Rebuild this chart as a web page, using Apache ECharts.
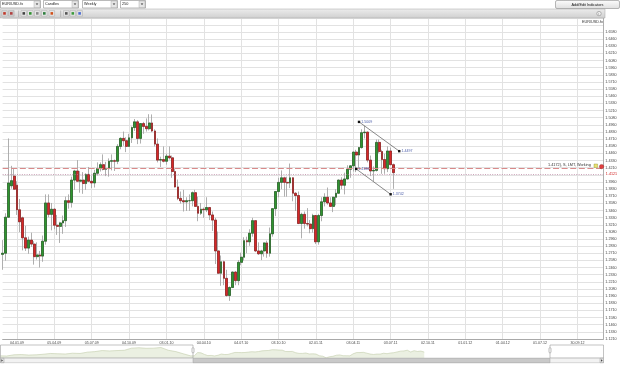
<!DOCTYPE html>
<html><head><meta charset="utf-8">
<script src="https://cdn.jsdelivr.net/npm/echarts@6/dist/echarts.min.js"></script>
<style>html,body{margin:0;padding:0;background:#fff}#c{width:625px;height:365px}</style>
</head><body><div id="c"></div>
<script>
// ---------- DATA ----------
const symbolName = 'EUR/USD.fx';
const firstWeek = '2008-11-30';
const weekCount = 210;
const xTickLabels = ['04.01.09','05.04.09','05.07.09','04.10.09','03.01.10','04.04.10','04.07.10','03.10.10','02.01.11','03.04.11','03.07.11','02.10.11','01.01.12','01.04.12','01.07.12','30.09.12'];

const candleOpen = [1.2690,1.2710,1.3340,1.3890,1.4060,1.3900,1.3470,1.3330,1.2980,1.2800,
1.2940,1.2870,1.2650,1.2680,1.2660,1.2920,1.3590,1.3390,1.3480,1.3200,
1.3180,1.3240,1.3280,1.3630,1.3600,1.3990,1.4150,1.3970,1.3990,1.3930,
1.4090,1.3970,1.3940,1.4110,1.4190,1.4260,1.4180,1.4190,1.4320,1.4330,
1.4320,1.4580,1.4720,1.4680,1.4580,1.4730,1.4910,1.5010,1.4720,1.4980,
1.4930,1.4890,1.4990,1.4850,1.4620,1.4340,1.4350,1.4320,1.4410,1.4380,
1.4140,1.3870,1.3670,1.3630,1.3610,1.3630,1.3630,1.3770,1.3530,1.3410,
1.3480,1.3470,1.3510,1.3380,1.3290,1.2750,1.2360,1.2560,1.2270,1.1970,
1.2110,1.2380,1.2230,1.2550,1.2640,1.2930,1.2910,1.3060,1.3280,1.2750,
1.2700,1.2750,1.2890,1.2710,1.3050,1.3490,1.3790,1.3950,1.4030,1.3950,
1.3940,1.4030,1.3760,1.3720,1.3230,1.3390,1.3230,1.3220,1.3140,1.3370,
1.2910,1.3370,1.3610,1.3690,1.3590,1.3530,1.3690,1.3760,1.3990,1.3900,
1.4010,1.4180,1.4240,1.4480,1.4430,1.4560,1.4820,1.4830,1.4340,1.4150,
1.4160,1.4650,1.4490,1.4350,1.4190,1.4500,1.4260];
const candleClose = [1.2710,1.3340,1.3940,1.3980,1.3830,1.3470,1.3260,1.2980,1.2800,1.2940,
1.2870,1.2650,1.2680,1.2660,1.2920,1.3590,1.3390,1.3480,1.3200,1.3180,
1.3240,1.3280,1.3630,1.3600,1.3990,1.4150,1.3970,1.3990,1.3930,1.4090,
1.3970,1.3940,1.4110,1.4190,1.4260,1.4180,1.4190,1.4320,1.4330,1.4320,
1.4580,1.4720,1.4680,1.4580,1.4730,1.4910,1.5010,1.4720,1.4980,1.4930,
1.4890,1.4990,1.4850,1.4620,1.4340,1.4350,1.4320,1.4410,1.4380,1.4140,
1.3870,1.3670,1.3630,1.3610,1.3630,1.3630,1.3770,1.3530,1.3410,1.3480,
1.3470,1.3510,1.3380,1.3290,1.2750,1.2360,1.2560,1.2270,1.1970,1.2110,
1.2380,1.2230,1.2550,1.2640,1.2930,1.2910,1.3060,1.3280,1.2750,1.2700,
1.2750,1.2890,1.2710,1.3050,1.3490,1.3790,1.3950,1.4030,1.3950,1.3940,
1.4030,1.3760,1.3720,1.3230,1.3390,1.3230,1.3220,1.3140,1.3370,1.2910,
1.3370,1.3610,1.3690,1.3590,1.3530,1.3690,1.3760,1.3990,1.3900,1.4010,
1.4180,1.4240,1.4480,1.4430,1.4560,1.4820,1.4830,1.4340,1.4150,1.4160,
1.4650,1.4490,1.4350,1.4190,1.4500,1.4260,1.4121];
const candleLow = [1.2420,1.2580,1.3330,1.3840,1.3820,1.3380,1.3080,1.2760,1.2750,1.2700,
1.2820,1.2510,1.2600,1.2460,1.2560,1.2860,1.3340,1.3110,1.3130,1.3030,
1.2890,1.3050,1.3170,1.3490,1.3510,1.3820,1.3960,1.3770,1.3750,1.3820,
1.3960,1.3850,1.3860,1.4070,1.4140,1.4160,1.4060,1.4050,1.4160,1.4150,
1.4270,1.4530,1.4590,1.4480,1.4570,1.4640,1.4850,1.4620,1.4630,1.4800,
1.4840,1.4860,1.4830,1.4580,1.4300,1.4220,1.4300,1.4260,1.4350,1.4030,
1.3860,1.3640,1.3580,1.3440,1.3450,1.3450,1.3530,1.3530,1.3270,1.3380,
1.3330,1.3430,1.3290,1.3100,1.2520,1.2350,1.2140,1.2150,1.1950,1.1876,
1.2100,1.2150,1.2150,1.2500,1.2580,1.2710,1.2840,1.3000,1.2730,1.2680,
1.2590,1.2650,1.2630,1.2650,1.3000,1.3360,1.3690,1.3830,1.3700,1.3700,
1.3850,1.3620,1.3450,1.3220,1.2970,1.3140,1.3180,1.3060,1.3070,1.2870,
1.2860,1.3270,1.3530,1.3560,1.3520,1.3430,1.3550,1.3750,1.3830,1.3740,
1.4000,1.4030,1.4140,1.4130,1.4190,1.4540,1.4720,1.4300,1.4060,1.3970,
1.4140,1.4460,1.4100,1.4100,1.4130,1.4250,1.3837];
const candleHigh = [1.2940,1.3410,1.4720,1.4240,1.4200,1.3970,1.3660,1.3350,1.3190,1.3000,
1.3070,1.2920,1.2900,1.2750,1.3020,1.3740,1.3740,1.3590,1.3500,1.3380,
1.3260,1.3370,1.3700,1.3740,1.4050,1.4170,1.4340,1.4150,1.4130,1.4110,
1.4220,1.4070,1.4170,1.4300,1.4300,1.4440,1.4310,1.4370,1.4440,1.4350,
1.4620,1.4740,1.4840,1.4740,1.4800,1.4930,1.5060,1.5040,1.4910,1.5010,
1.5070,1.5144,1.5140,1.4880,1.4720,1.4400,1.4580,1.4450,1.4580,1.4420,
1.4190,1.4000,1.3790,1.3820,1.3690,1.3740,1.3790,1.3820,1.3700,1.3590,
1.3510,1.3690,1.3520,1.3440,1.3330,1.3090,1.2670,1.2580,1.2420,1.2130,
1.2390,1.2400,1.2590,1.2720,1.2990,1.3000,1.3130,1.3330,1.3280,1.2900,
1.2770,1.2900,1.2930,1.3160,1.3500,1.3800,1.4030,1.4160,1.4050,1.4050,
1.4280,1.4040,1.3780,1.3790,1.3420,1.3440,1.3500,1.3290,1.3400,1.3380,
1.3400,1.3690,1.3760,1.3860,1.3690,1.3700,1.3830,1.4000,1.4040,1.4120,
1.4250,1.4250,1.4490,1.4520,1.4570,1.4880,1.4940,1.4840,1.4420,1.4230,
1.4700,1.4700,1.4520,1.4450,1.4580,1.4560,1.4280];

// navigator history before the visible window (monthly readings)
const navPreDates = ['2006-09-20','2006-10-15','2006-11-15','2006-12-15','2007-01-15','2007-02-15','2007-03-15','2007-04-15','2007-05-15','2007-06-15','2007-07-15','2007-08-15','2007-09-15','2007-10-15','2007-11-15','2007-12-15','2008-01-15','2008-02-15','2008-03-15','2008-04-15','2008-05-15','2008-06-15','2008-07-15','2008-08-15','2008-09-15','2008-10-15','2008-11-15'];
const navPreValues = [1.270,1.265,1.310,1.320,1.300,1.310,1.330,1.360,1.350,1.340,1.370,1.360,1.410,1.430,1.470,1.455,1.470,1.480,1.560,1.575,1.555,1.560,1.585,1.480,1.430,1.350,1.270];

const orderPrice = 1.4172;
const orderText = '1.4172), S, LMT, Working';
const lastPrice = 1.4121;
const channelUpper = [[124, 1.5009], [138, 1.4497]];
const channelLower = [[123, 1.4186], [135, 1.3742]];

const yMin = 1.1208333, yMax = 1.6828, yStep = 0.0125;

// ---------- BUILD ----------
const FONT = '"Liberation Sans", Arial, sans-serif';
const cats = [], catDates = [];
const d0 = new Date(firstWeek + 'T00:00:00Z').getTime();
const p2 = n => String(n).padStart(2, '0');
for (let i = 0; i < weekCount; i++) {
  const d = new Date(d0 + i * 7 * 86400000);
  catDates.push(d);
  cats.push(p2(d.getUTCDate()) + '.' + p2(d.getUTCMonth() + 1) + '.' + p2(d.getUTCFullYear() % 100));
}
const isTick = (idx, val) => xTickLabels.indexOf(val) >= 0;
const wickData = candleOpen.map((o, i) => [o, candleClose[i], candleLow[i], candleHigh[i]]);
const bodyData = candleOpen.map((o, i) => [o, candleClose[i], Math.min(o, candleClose[i]), Math.max(o, candleClose[i])]);
const navData = navPreDates.map((d, i) => [d, navPreValues[i]])
  .concat(candleClose.map((c, i) => [catDates[i].getTime(), c]));

function chanSeries(pts) {
  return {
    type: 'line', xAxisIndex: 0, yAxisIndex: 0, z: 10,
    data: pts.map(p => [cats[p[0]], p[1]]),
    symbol: 'rect', symbolSize: 2.4, showSymbol: true, showAllSymbol: true,
    itemStyle: { color: '#111' },
    lineStyle: { color: '#3a3a3a', width: 0.6 },
    label: { show: true, position: 'right', distance: 1, offset: [0, 4],
      formatter: p => p.value[1].toFixed(4), fontSize: 3.6, fontFamily: FONT, color: '#4a5ca8' },
    labelLayout: { hideOverlap: false },
    animation: false, silent: true
  };
}

// ---------- UI graphics ----------
const ui = [];
function rect(x, y, w, h, style, r) { ui.push({ type: 'rect', z: 100, shape: { x, y, width: w, height: h, r: r || 0 }, style }); }
function txt(x, y, s, fill, align, size) {
  ui.push({ type: 'text', z: 101, x, y, style: { text: s, fill: fill || '#222', font: (size || 3.8) + 'px ' + FONT,
    textAlign: align || 'left', align: align || 'left', textVerticalAlign: 'middle', verticalAlign: 'middle' } });
}
function tri(x, y, down) {
  ui.push({ type: 'polygon', z: 101, shape: { points: down ? [[x - 1.3, y - 0.7], [x + 1.3, y - 0.7], [x, y + 0.8]] : [[x - 0.7, y - 1.3], [x - 0.7, y + 1.3], [x + 0.8, y]] }, style: { fill: '#333' } });
}
function dropdown(x, w, label) {
  rect(x, 0.5, w, 7.5, { fill: '#fff', stroke: '#8c8c8c', lineWidth: 0.6 });
  rect(x + w - 6.5, 1, 6, 6.5, { fill: '#e6e6e6', stroke: '#a0a0a0', lineWidth: 0.4 });
  tri(x + w - 3.5, 4.2, true);
  txt(x + 1.5, 4.3, label, '#222');
}
dropdown(0.5, 40, symbolName);
dropdown(43.5, 35, 'Candles');
dropdown(82.5, 35, 'Weekly');
dropdown(120.5, 25, '250');
// Add/Edit Indicators button
ui.push({ type: 'rect', z: 100, shape: { x: 555.5, y: 0.5, width: 64, height: 8, r: 1.5 },
  style: { fill: new echarts.graphic.LinearGradient(0, 0, 0, 1, [{ offset: 0, color: '#fdfdfd' }, { offset: 1, color: '#dedede' }]), stroke: '#8a8a8a', lineWidth: 0.6 } });
txt(587.5, 4.5, 'Add/Edit Indicators', '#111', 'center');
// toolbar band
ui.push({ type: 'rect', z: 99, shape: { x: 0, y: 9, width: 605, height: 9 },
  style: { fill: new echarts.graphic.LinearGradient(0, 0, 0, 1, [{ offset: 0, color: '#ededed' }, { offset: 1, color: '#cfcfcf' }]), stroke: '#a4a4a4', lineWidth: 0.5 } });
// toolbar icons
const icons = [[1.7, '#d9d9d9', '#c0392b'], [8.5, '#cfcfcf', '#b04040'], [21, '#e8e8e8', '#444'], [27.5, '#e8e8e8', '#2f8f2f'], [34.5, '#e8e8e8', '#888'], [41.5, '#e8e8e8', '#2f7f3f'], [49, '#e8e8e8', '#d0501a'], [63.5, '#e4e4e4', '#555'], [70, '#e4e4e4', '#3c9a3c'], [76.8, '#e4e4e4', '#4a6ad0']];
icons.forEach(ic => {
  rect(ic[0], 10.6, 5.6, 5.6, { fill: ic[1], stroke: '#9a9a9a', lineWidth: 0.4 });
  rect(ic[0] + 1.5, 12.1, 2.6, 2.6, { fill: ic[2] });
});
[18.5, 60.5].forEach(x => rect(x, 10.5, 0.6, 6.5, { fill: '#9c9c9c' }));
ui.push({ type: 'circle', z: 101, shape: { cx: 599, cy: 13.6, r: 2.2 }, style: { fill: '#f4f4f4', stroke: '#777', lineWidth: 0.5 } });
txt(599, 13.7, 'i', '#555', 'center', 3.4);
txt(603, 22.3, symbolName, '#333', 'right');
// order line icons
ui.push({ type: 'rect', z: 101, shape: { x: 594, y: 164, width: 3.6, height: 3.6 }, style: { fill: '#e8e070', stroke: '#8a8a30', lineWidth: 0.4 } });
ui.push({ type: 'circle', z: 101, shape: { cx: 601.6, cy: 166.6, r: 2.2 }, style: { fill: '#e04040', stroke: '#902020', lineWidth: 0.4 } });
// navigator frame
const navTop = 345, navBot = 358, winL = 193, winR = 550;
rect(0.5, navTop, winL - 0.5, navBot - navTop, { fill: 'rgba(0,0,0,0)', stroke: '#9a9a9a', lineWidth: 0.6 });
rect(winR, navTop, 603.5 - winR, navBot - navTop, { fill: 'rgba(0,0,0,0)', stroke: '#9a9a9a', lineWidth: 0.6 });
rect(0.5, navBot + 0.3, 603, 4.4, { fill: '#f2f2f2', stroke: '#b4b4b4', lineWidth: 0.5 });
rect(winL, navBot + 0.3, winR - winL, 4.4, { fill: '#c9c9c9', stroke: '#a0a0a0', lineWidth: 0.5 });
rect(0.5, navBot + 0.3, 3.5, 4.4, { fill: '#e4e4e4', stroke: '#8a8a8a', lineWidth: 0.4 });
rect(600, navBot + 0.3, 3.5, 4.4, { fill: '#e4e4e4', stroke: '#8a8a8a', lineWidth: 0.4 });
tri(2.1, navBot + 2.5, false);
tri(601.8, navBot + 2.5, false);
[winL, winR].forEach(x => rect(x - 1.1, 347.8, 2.2, 5, { fill: '#f0f0f0', stroke: '#7a7a7a', lineWidth: 0.4 }, 0.8));

// ---------- OPTION ----------
const chart = echarts.init(document.getElementById('c'), null, { renderer: 'canvas' });
chart.setOption({
  animation: false,
  backgroundColor: '#ffffff',
  grid: [
    { left: 2.63, right: 21.7, top: 18, bottom: 26, containLabel: false },
    { left: 0.5, right: 21.5, top: navTop + 0.5, height: navBot - navTop - 0.5, containLabel: false }
  ],
  xAxis: [
    { type: 'category', gridIndex: 0, data: cats, boundaryGap: false,
      axisLine: { show: true, lineStyle: { color: '#9a9a9a', width: 0.8 } },
      axisTick: { show: false },
      axisLabel: { interval: isTick, fontSize: 3.6, fontFamily: FONT, color: '#444', margin: 2 },
      splitLine: { show: true, interval: isTick, lineStyle: { color: '#e2e2e2', width: 1 } } },
    { type: 'time', gridIndex: 1, min: '2006-09-20', max: '2013-07-21', show: false }
  ],
  yAxis: [
    { type: 'value', gridIndex: 0, position: 'right', min: yMin, max: yMax, interval: yStep, scale: true,
      axisLine: { show: true, lineStyle: { color: '#9a9a9a', width: 0.8 } },
      axisTick: { show: false },
      axisLabel: { fontSize: 3.7, fontFamily: FONT, color: '#444', margin: 2,
        formatter: v => (v > 1.665 || Math.abs(v - lastPrice) < 0.004) ? '' : v.toFixed(3) + '0' },
      splitLine: { show: true, lineStyle: { color: '#e2e2e2', width: 1 } } },
    { type: 'value', gridIndex: 1, min: 1.19, max: 1.66, show: false }
  ],
  series: [
    { type: 'candlestick', name: 'wick', xAxisIndex: 0, yAxisIndex: 0, data: wickData, barWidth: 2.3,
      itemStyle: { color: '#a6a6a6', color0: '#a6a6a6', borderColor: '#a6a6a6', borderColor0: '#a6a6a6', borderWidth: 0.9 },
      silent: true },
    { type: 'candlestick', name: symbolName, xAxisIndex: 0, yAxisIndex: 0, data: bodyData, barWidth: 2.3, z: 3,
      itemStyle: { color: '#2f962f', color0: '#d62828', borderColor: '#175417', borderColor0: '#861010', borderWidth: 0.6 },
      silent: true,
      markLine: { silent: true, symbol: ['none', 'none'], animation: false,
        data: [
          { yAxis: orderPrice, lineStyle: { color: '#d98a8a', type: [6, 2.6], width: 1.2 },
            label: { show: true, position: 'insideEndTop', formatter: orderText, fontSize: 3.8, fontFamily: FONT, color: '#333', padding: [0, 11, 0, 0], distance: 1.5 } },
          { yAxis: lastPrice, lineStyle: { color: '#b47a9a', type: [1, 1.4], width: 0.7 },
            label: { show: true, position: 'end', formatter: lastPrice.toFixed(4), fontSize: 3.7, fontFamily: FONT, color: '#d02020', distance: 2.5 } }
        ] } },
    chanSeries(channelUpper),
    chanSeries(channelLower),
    { type: 'line', xAxisIndex: 1, yAxisIndex: 1, data: navData, symbol: 'none', silent: true,
      lineStyle: { color: '#c3cdab', width: 0.6 }, areaStyle: { color: '#e3e9d6', origin: 'start' } }
  ],
  graphic: ui
});
</script></body></html>
